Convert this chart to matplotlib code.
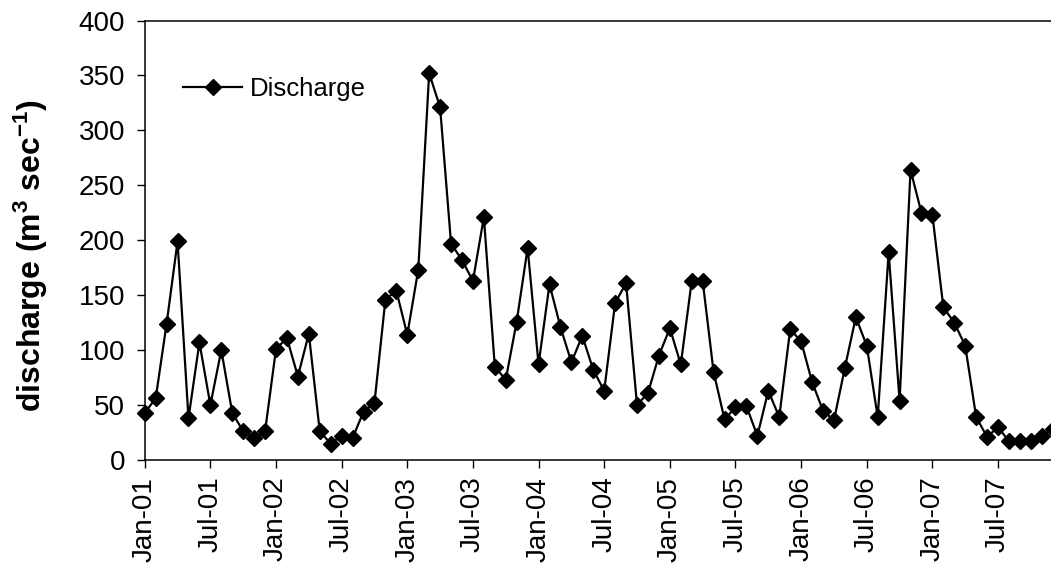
import matplotlib
matplotlib.use('Agg')
import matplotlib.pyplot as plt
import numpy as np

plt.rcParams['font.family'] = ['Liberation Sans', 'DejaVu Sans']
plt.rcParams['mathtext.fontset'] = 'custom'
plt.rcParams['mathtext.rm'] = 'Liberation Sans:bold'
plt.rcParams['mathtext.it'] = 'Liberation Sans:bold'
plt.rcParams['mathtext.bf'] = 'Liberation Sans:bold'

# monthly discharge, Jan 2001 - Dec 2007
discharge = [43, 56, 124, 199, 38, 107, 50, 100, 43, 26, 20, 26,
             101, 111, 76, 115, 26, 15, 22, 20, 44, 52, 146, 154,
             114, 173, 352, 321, 197, 182, 163, 221, 85, 73, 126, 193,
             87, 160, 121, 89, 113, 82, 63, 143, 161, 50, 61, 95,
             120, 87, 163, 163, 80, 37, 48, 49, 22, 63, 39, 119,
             108, 71, 45, 36, 84, 130, 104, 39, 189, 54, 264, 225,
             223, 139, 125, 104, 39, 21, 30, 17, 17, 17, 22, 28]
years = ['01', '02', '03', '04', '05', '06', '07']
tick_labels = []
for y in years:
    tick_labels += ['Jan-' + y, 'Jul-' + y]

months = np.arange(len(discharge))

fig = plt.figure(figsize=(10.51, 5.73), dpi=100)
ax = fig.add_axes([0.1377, 0.1972, 0.8623, 0.767])

ax.plot(months, discharge, color='black', lw=1.6, marker='D', ms=8.5,
        mfc='black', mec='black', label='Discharge', clip_on=False)

ax.set_xlim(0, 82.84)
ax.set_ylim(0, 400)
ax.set_yticks(np.arange(0, 401, 50))
ax.set_xticks(np.arange(0, len(tick_labels) * 6, 6))
ax.set_xticklabels(tick_labels, rotation=90)

ax.spines['right'].set_visible(False)
for s in ['left', 'bottom', 'top']:
    ax.spines[s].set_linewidth(1.1)
ax.tick_params(axis='both', direction='out', length=6, width=1.0,
               labelsize=20, pad=6)
ax.tick_params(axis='y', pad=8)

ax.set_ylabel(r'discharge (m$^{3}$ sec$^{-1}$)', fontsize=23,
              fontweight='bold')
ax.yaxis.set_label_coords(-0.1045, 0.466)

ax.legend(loc='center left', bbox_to_anchor=(183 / 1051, 1 - 89 / 573),
          bbox_transform=fig.transFigure, frameon=False, fontsize=18.5,
          borderpad=0, borderaxespad=0, handlelength=2.3,
          handletextpad=0.3)

plt.savefig('out.png', dpi=100)
plt.close()
